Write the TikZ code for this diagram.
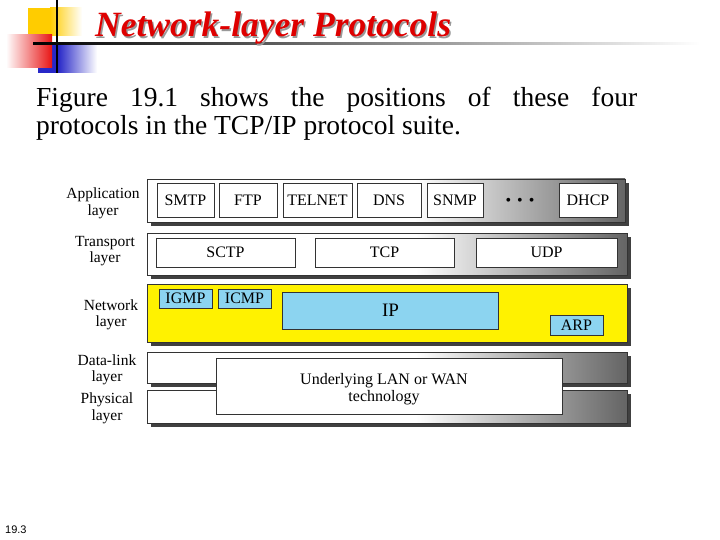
\documentclass[tikz,border=0pt]{standalone}
\usepackage{fontspec}
\setmainfont{Liberation Serif}
\newfontfamily\slidesans{Liberation Sans}
\usetikzlibrary{shadows, positioning}

\definecolor{decoyellow}{RGB}{255,204,0}
\definecolor{decored}{RGB}{232,20,20}
\definecolor{decoblue}{RGB}{40,40,200}
\definecolor{titlered}{RGB}{222,0,0}
\definecolor{netyellow}{RGB}{255,242,0}
\definecolor{protoblue}{RGB}{140,212,240}
\definecolor{bandgray}{RGB}{100,100,100}

\pgfdeclarehorizontalshading{bandgrad}{100bp}{color(0bp)=(white); color(25bp)=(white); color(53bp)=(white); color(75bp)=(bandgray); color(100bp)=(bandgray)}

\tikzset{
    slide style/.style={x=1pt, y=-1pt},
    band/.style={draw=black!80, line width=0.7pt, inner sep=0pt,
        drop shadow={shadow xshift=4pt, shadow yshift=-4pt, fill=black!75, opacity=1}},
    shadedband/.style={band, shade, shading=bandgrad},
    proto/.style={draw=black!80, line width=0.6pt, fill=white, inner sep=0pt,
        font=\fontsize{16}{17}\selectfont},
    netproto/.style={proto, fill=protoblue},
    layerlabel/.style={align=center, inner sep=0pt, font=\fontsize{15.5}{16.5}\selectfont}
}

\begin{document}
\begin{tikzpicture}[slide style]
    \useasboundingbox (0,0) rectangle (720,540);

    % --- 1. corner decoration ---
    \fill[decoyellow] (28,8) rectangle (50,36);
    \shade[left color=decoyellow, right color=white] (50,8) rectangle (82,36);
    \fill[decoblue] (38,43) rectangle (58,73);
    \shade[left color=decoblue, right color=white] (58,43) rectangle (97,73);
    \shade[left color=white, right color=decored] (6,35) rectangle (52,68);
    \draw[line width=2.5pt] (57,0) -- (57,73);
    \shade[left color=black, right color=white] (33,42.5) rectangle (700,44.5);

    % --- 2. title and text ---
    \node[anchor=base west, inner sep=0pt, text=black!40,
        font=\fontsize{35.5}{40}\selectfont\bfseries\itshape] (titleshadow) at (96.5,38.5) {Network-layer Protocols};
    \node[anchor=base west, inner sep=0pt, text=titlered,
        font=\fontsize{35.5}{40}\selectfont\bfseries\itshape] (title) at (95,37) {Network-layer Protocols};

    \node[anchor=north west, inner sep=0pt, text width=601pt, align=justify,
        font=\fontsize{27.5}{27.5}\selectfont] (body) at (36,87)
        {\noindent Figure 19.1 shows the positions of these four\linebreak
         protocols in the TCP/IP protocol suite.};

    \node[anchor=base west, inner sep=0pt, font=\slidesans\fontsize{11}{13}\selectfont] (pagenum) at (5,533) {19.3};

    % --- 3. layer bands ---
    \node[shadedband, minimum width=478, minimum height=43] (appband) at (386,200.5) {};
    \node[shadedband, minimum width=480, minimum height=42] (transband) at (387,254) {};
    \node[band, fill=netyellow, minimum width=480, minimum height=58] (netband) at (387,313) {};
    \node[shadedband, minimum width=480, minimum height=31] (linkband) at (387,367.5) {};
    \node[shadedband, minimum width=480, minimum height=33] (physband) at (387,406.5) {};

    % --- 4. layer names ---
    \node[layerlabel] (applabel) at (103,203.5) {Application\\layer};
    \node[layerlabel] (translabel) at (105,251) {Transport\\layer};
    \node[layerlabel] (netlabel) at (111,315) {Network\\layer};
    \node[layerlabel] (linklabel) at (107,370) {Data-link\\layer};
    \node[layerlabel] (physlabel) at (107,408.5) {Physical\\layer};

    % --- 5. protocols ---
    \foreach \name/\cx/\w/\txt in {smtp/185.5/57/SMTP, ftp/248/58/FTP, telnet/317.5/69/TELNET,
                                   dns/389/64/DNS, snmp/455/56/SNMP, dhcp/588/58/DHCP} {
        \node[proto, minimum width=\w, minimum height=34] (\name) at (\cx,200) {\txt};
    }
    \node[inner sep=0pt, font=\fontsize{16}{17}\selectfont] (dots) at (520,202)
        {\textbullet\hspace{6pt}\textbullet\hspace{6pt}\textbullet};

    \foreach \name/\cx/\w/\txt in {sctp/225.5/139/SCTP, tcp/384.5/139/TCP, udp/546.5/141/UDP} {
        \node[proto, minimum width=\w, minimum height=29] (\name) at (\cx,252.5) {\txt};
    }

    \node[netproto, minimum width=53, minimum height=19] (igmp) at (185.5,298.5) {IGMP};
    \node[netproto, minimum width=53, minimum height=19] (icmp) at (244.5,298.5) {ICMP};
    \node[netproto, minimum width=216, minimum height=37, font=\fontsize{19}{20}\selectfont] (ip) at (390.5,310.5) {IP};
    \node[netproto, minimum width=53, minimum height=20] (arp) at (576.5,325) {ARP};

    \node[proto, minimum width=346, minimum height=56] (lanwan) at (389,386) {};
    \node[layerlabel, font=\fontsize{16}{17}\selectfont] (lanwantext) at (384,389)
        {Underlying LAN or WAN\\technology};

\end{tikzpicture}
\end{document}
